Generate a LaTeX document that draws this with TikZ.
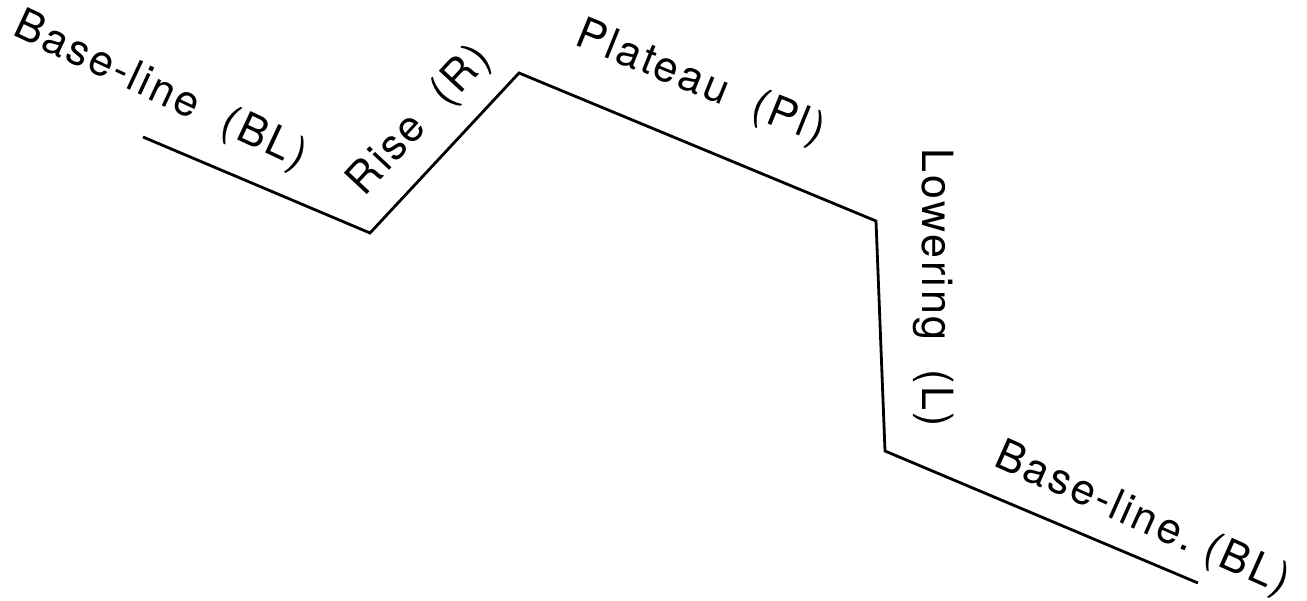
\documentclass[tikz,border=0pt]{standalone}
\usepackage{fontspec}
\setmainfont{TeX Gyre Heros}[LetterSpace=6]
\begin{document}
\begin{tikzpicture}[x=1pt,y=-1pt,
  curve/.style={line width=2.8pt,line join=miter,line cap=butt},
  lbl/.style={font=\fontsize{43}{50}\selectfont,inner sep=0pt,anchor=center}]
\useasboundingbox[fill=white] (0,0) rectangle (1307,601);
\coordinate (p1) at (143,137);
\coordinate (p2) at (370,233);
\coordinate (p3) at (519,73);
\coordinate (p4) at (876,221);
\coordinate (p5) at (885,451);
\coordinate (p6) at (1198,583);
\draw[curve] (p1) -- (p2) -- (p3) -- (p4) -- (p5) -- (p6);
\node[lbl,rotate=-25] (bl1) at (160,92) {Base-line\ \ (BL)};
\node[lbl,rotate=47] (rise) at (420,121) {Rise\ \ (R)};
\node[lbl,rotate=-22] (pl) at (700,84) {Plateau\ \ (Pl)};
\node[lbl,rotate=-90] (low) at (933,288) {Lowering\ \ (L)};
\node[lbl,rotate=-24] (bl2) at (1142,520) {Base-line.\ (BL)};
\end{tikzpicture}
\end{document}
